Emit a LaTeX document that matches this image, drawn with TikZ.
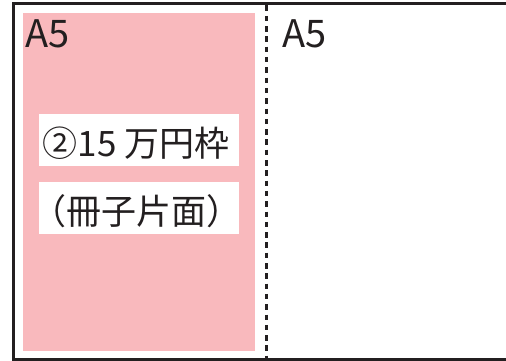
\documentclass[tikz,border=0pt]{standalone}
\usepackage{fontspec}
\setmainfont{Noto Sans CJK JP}
\definecolor{ink}{HTML}{231F20}
\definecolor{pinkarea}{HTML}{F9B9BD}
\tikzset{
    pagetxt/.style={text=ink,inner sep=0pt,font=\fontsize{38}{38}\selectfont},
    boxtxt/.style={text=ink,inner sep=0pt,font=\fontsize{35}{35}\selectfont},
}
\begin{document}
\begin{tikzpicture}[x=1pt,y=-1pt]
        \useasboundingbox (0,0) rectangle (506,361);
        \fill[white] (0,0) rectangle (506,361);
        \fill[color=pinkarea] (23,13) rectangle (255,350.5);
        \fill[white] (39,114) rectangle (239,165.5);
        \fill[white] (39,181.5) rectangle (239,233.5);
        \draw[ink,line width=3pt] (520,4) -- (13,4) -- (13,359.5) -- (520,359.5);
        \draw[ink,line width=3pt,dash pattern=on 5.5pt off 4.8pt] (266.5,5.5) -- (266.5,359);

        \node[pagetxt,anchor=base west] (leftpage) at (25,48) {A5};
        \node[pagetxt,anchor=base west] (rightpage) at (282,48) {A5};
        \node[boxtxt,anchor=base] (frame) at (136,156) {②15 万円枠};
        \node[boxtxt,anchor=base] (side) at (136,224) {（冊子片面）};
    \end{tikzpicture}
\end{document}
